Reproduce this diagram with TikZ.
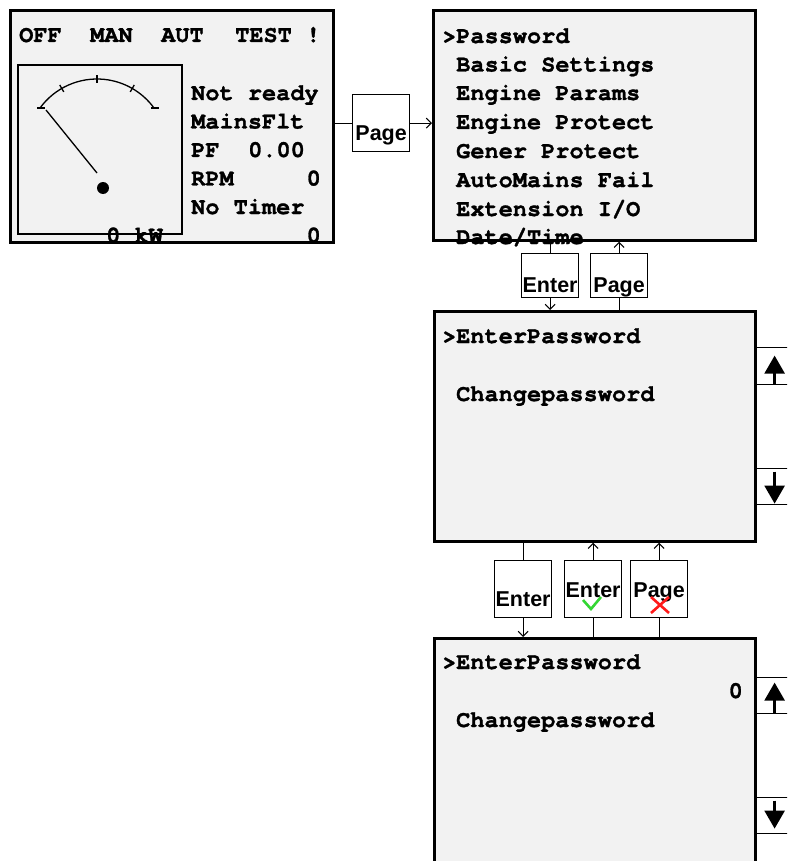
\documentclass[tikz,border=0pt]{standalone}
\usepackage{fontspec}
\usetikzlibrary{arrows.meta,positioning,calc}
\newfontfamily\lcdfont{texgyrecursor}[Extension=.otf, UprightFont=*-regular, BoldFont=*-bold, BoldFeatures={FakeBold=1.2}]
\newfontfamily\keyfont{Liberation Sans}
\definecolor{lcdgray}{HTML}{F2F2F2}
\definecolor{okgreen}{HTML}{33D633}
\definecolor{badred}{HTML}{FF1A1A}
\tikzset{
	screen/.style={draw, line width=2.8, fill=lcdgray, anchor=north west, inner sep=0, minimum width=322, minimum height=230},
	lcd/.style={font=\lcdfont\bfseries\fontsize{23.6}{28}\selectfont, anchor=base west, inner sep=0},
	lcdr/.style={lcd, anchor=base east},
	key/.style={draw, line width=1.2, fill=white, anchor=north west, inner sep=0, minimum width=57, font=\keyfont\bfseries\fontsize{21.5}{21.5}\selectfont},
	side/.style={draw, line width=1.2, fill=white, anchor=north west, inner sep=0, minimum width=40, minimum height=36},
	link/.style={line width=1},
	arr/.style={->, >={Straight Barb[length=5pt,width=10pt]}, line width=1},
	fatarr/.style={-{Triangle[length=18pt,width=20pt]}, line width=2.6},
	gauge/.style={line width=1.3}
}

\begin{document}
\begin{tikzpicture}[x=1pt, y=-1pt]
				\useasboundingbox (0,0) rectangle (787,861);
				\clip (0,0) rectangle (787,861);
				
				%%%% scroll boxes beside the password screens
				\node[side, minimum height=37] (upA) at (754,347) {};
				\node[side] (dnA) at (754,468) {};
				\node[side] (upB) at (754,677) {};
				\node[side] (dnB) at (754,797) {};
				\draw[fatarr] ($(upA.south)+(0,-1.6)$) -- ($(upA.north)+(0,8.6)$);
				\draw[fatarr] ($(dnA.north)+(0,3.6)$) -- ($(dnA.south)+(0,-1.6)$);
				\draw[fatarr] ($(upB.south)+(0,-1.6)$) -- ($(upB.north)+(0,5.6)$);
				\draw[fatarr] ($(dnB.north)+(0,3.6)$) -- ($(dnB.south)+(0,-5.6)$);
				
				%%%% screens
				\node[screen, minimum width=323, minimum height=232] (main) at (9,9) {};
				\node[screen] (menu) at (432,9) {};
				\node[screen, minimum width=321] (pwA) at (433,310) {};
				\node[screen, minimum width=321, minimum height=250] (pwB) at (433,637) {};
				
				%%%% main screen
				\node[lcd] (off) at (19,42) {OFF};
				\node[lcd] (man) at (90,42) {MAN};
				\node[lcd] (aut) at (161,42) {AUT};
				\node[lcd] (tst) at (235,42) {TEST};
				\node[lcd] (excl) at (306,42) {!};
				\draw[gauge] (18,65) rectangle (182,234);
				\coordinate (gc) at (97,149.5);
				\draw[gauge] ($(gc)+(-144:70.5)$) arc[start angle=-144, end angle=-36, radius=70.5];
				\draw[gauge] ($(gc)+(-60:66.5)$) -- ($(gc)+(-60:74.5)$);
				\draw[gauge] ($(gc)+(-90:66.5)$) -- ($(gc)+(-90:74.5)$);
				\draw[gauge] ($(gc)+(-120:66.5)$) -- ($(gc)+(-120:74.5)$);
				\draw[gauge] (37,108) -- (44.5,108);
				\draw[gauge] (151,108) -- (158.5,108);
				\draw[gauge] (46,110) -- (97,173);
				\fill (103,188) circle[radius=6];
				\node[lcd] (state) at (191,100) {Not ready};
				\node[lcd] (mains) at (191,128.5) {MainsFlt};
				\node[lcd] (pf) at (191,157) {PF};
				\node[lcd] (pfval) at (248,157) {0.00};
				\node[lcd] (rpm) at (191,185.5) {RPM};
				\node[lcdr] (rpmval) at (321,185.5) {0};
				\node[lcd] (timer) at (191,214) {No Timer};
				\node[lcd] (kw) at (106,242.5) {0 kW};
				\node[lcdr] (cnt) at (321,242.5) {0};
				
				%%%% menu
				\node[lcd] (cur) at (442,43) {>};
				\node[lcd] (m1) at (456,43) {Password};
				\node[lcd] (m2) at (456,71.5) {Basic Settings};
				\node[lcd] (m3) at (456,100) {Engine Params};
				\node[lcd] (m4) at (456,129) {Engine Protect};
				\node[lcd] (m5) at (456,158) {Gener Protect};
				\node[lcd] (m6) at (456,187) {AutoMains Fail};
				\node[lcd] (m7) at (456,216) {Extension I/O};
				\node[lcd] (m8) at (456,244) {Date/Time};
				
				%%%% password screens
				\node[lcd] (curA) at (442,343) {>};
				\node[lcd] (enpwA) at (456,343) {EnterPassword};
				\node[lcd] (chpwA) at (456,401) {Changepassword};
				\node[lcd] (curB) at (442,669) {>};
				\node[lcd] (enpwB) at (456,669) {EnterPassword};
				\node[lcdr] (pwval) at (743,698) {0};
				\node[lcd] (chpwB) at (456,727) {Changepassword};
				
				%%%% keys
				\node[key, text height=46, text depth=11] (pageA) at (352,94) {Page};
				\node[key, text height=39, text depth=5] (enterA) at (521,253) {Enter};
				\node[key, text height=39, text depth=5] (pageB) at (590,253) {Page};
				\node[key, text height=46, text depth=11] (enterB) at (494,560) {Enter};
				\node[key, text height=37, text depth=20] (enterC) at (564,560) {Enter};
				\node[key, text height=37, text depth=20] (pageC) at (630,560) {Page};
				\draw[okgreen, line width=2.6] ($(enterC.north west)+(19,40)$) -- ($(enterC.north west)+(27,49)$) -- ($(enterC.north west)+(37,37)$);
				\draw[badred, line width=2.6] ($(pageC.north west)+(21,37)$) -- ($(pageC.north west)+(39,53)$)
				($(pageC.north west)+(39,37)$) -- ($(pageC.north west)+(21,53)$);
				
				%%%% connectors
				\draw[link] (main.east |- pageA.west) -- (pageA.west);
				\draw[arr] (pageA.east) -- (pageA.east -| menu.west);
				\draw[link] (enterA.north) -- (enterA.north |- menu.south);
				\draw[arr] (enterA.south) -- (enterA.south |- pwA.north);
				\draw[link] (pageB.south) -- (pageB.south |- pwA.north);
				\draw[arr] (pageB.north) -- (pageB.north |- menu.south);
				\draw[link] (enterB.north) -- (enterB.north |- pwA.south);
				\draw[arr] (enterB.south) -- (enterB.south |- pwB.north);
				\draw[link] (enterC.south) -- (enterC.south |- pwB.north);
				\draw[arr] (enterC.north) -- (enterC.north |- pwA.south);
				\draw[link] (pageC.south) -- (pageC.south |- pwB.north);
				\draw[arr] (pageC.north) -- (pageC.north |- pwA.south);
				
		\end{tikzpicture}
\end{document}
